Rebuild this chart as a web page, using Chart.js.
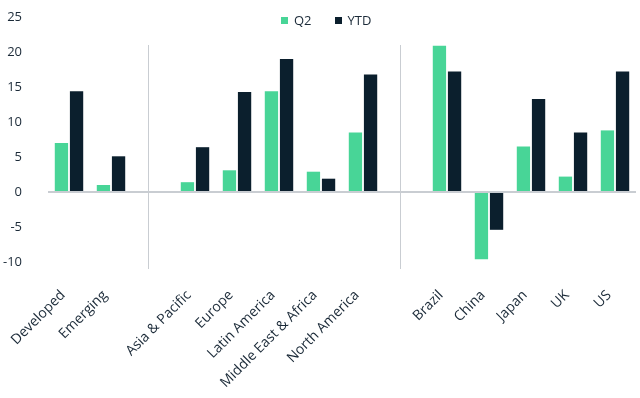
<!DOCTYPE html>
<html lang="en">
<head>
  <meta charset="UTF-8">
  <title>Q2 and YTD returns by region</title>
  <script src="https://cdn.jsdelivr.net/npm/chart.js"></script>
  <style>
      body {
          margin: 0;
          background-color: #ffffff;
          font-family: "Open Sans", sans-serif;
      }
      #chart-container {
          width: 640px;
          height: 398px;
          position: relative;
      }
      /* legend sits inside the plot, next to the top tick */
      #legend {
          position: absolute;
          top: 11px;
          left: 281px;
          display: flex;
          font-size: 13px;
          line-height: 18px;
          color: #1b2a38;
      }
      #legend span.item {
          display: flex;
          align-items: center;
          margin-right: 23px;
      }
      #legend span.box {
          width: 7px;
          height: 7px;
          margin-right: 6px;
      }
  </style>
</head>
<body>

<div id="chart-container">
    <canvas id="barChart" width="640" height="398"></canvas>
    <div id="legend"></div>
</div>

<script>
    // categories ('' = spacer between the groups)
    const labels = ['Developed', 'Emerging', '', 'Asia & Pacific', 'Europe', 'Latin America',
        'Middle East & Africa', 'North America', '', 'Brazil', 'China', 'Japan', 'UK', 'US'];
    const q2 = [7.0, 1.0, null, 1.4, 3.1, 14.4, 2.9, 8.5, null, 20.9, -9.6, 6.5, 2.2, 8.8];
    const ytd = [14.4, 5.1, null, 6.4, 14.3, 19.0, 1.9, 16.8, null, 17.2, -5.4, 13.3, 8.5, 17.2];
    const yTicks = [-10, -5, 0, 5, 10, 15, 20, 25];
    // group dividers, in category units
    const dividers = [1.87, 7.87];
    const dividerRange = [21, -11];

    const textColor = '#1b2a38';
    const green = '#48d597';
    const navy = '#0b1f2d';

    // thin vertical lines between the groups
    const dividerPlugin = {
        id: 'dividers',
        beforeDatasetsDraw(chart) {
            const ctx = chart.ctx;
            const x = chart.scales.x;
            const y = chart.scales.y;
            ctx.save();
            ctx.strokeStyle = '#c9cdd2';
            ctx.lineWidth = 1;
            dividers.forEach(function (d) {
                const px = Math.round(x.getPixelForValue(d)) + 0.5;
                ctx.beginPath();
                ctx.moveTo(px, y.getPixelForValue(dividerRange[0]));
                ctx.lineTo(px, y.getPixelForValue(dividerRange[1]));
                ctx.stroke();
            });
            ctx.restore();
        }
    };

    const ctx = document.getElementById('barChart').getContext('2d');
    const chart = new Chart(ctx, {
        type: 'bar',
        data: {
            labels: labels,
            datasets: [
                {
                    label: 'Q2',
                    data: q2,
                    backgroundColor: green,
                    categoryPercentage: 0.72,
                    barPercentage: 0.88
                },
                {
                    label: 'YTD',
                    data: ytd,
                    backgroundColor: navy,
                    categoryPercentage: 0.72,
                    barPercentage: 0.88
                }
            ]
        },
        options: {
            responsive: false,
            animation: false,
            layout: {
                padding: { top: 17, left: 0, right: 4, bottom: 0 }
            },
            plugins: {
                tooltip: { enabled: false },
                legend: { display: false }
            },
            scales: {
                x: {
                    grid: { display: false },
                    border: { display: false },
                    ticks: {
                        autoSkip: false,
                        minRotation: 45,
                        maxRotation: 45,
                        padding: 17,
                        labelOffset: -6,
                        color: textColor,
                        font: { family: 'Open Sans', size: 14 }
                    },
                    afterFit: function (scale) {
                        scale.height = 136;
                        scale.paddingLeft = 0;
                        scale.paddingRight = 0;
                    }
                },
                y: {
                    min: -10,
                    max: 25,
                    afterBuildTicks: function (scale) {
                        scale.ticks = yTicks.map(function (v) { return { value: v }; });
                    },
                    afterFit: function (scale) {
                        scale.width = 48;
                        scale.paddingTop = 0;
                        scale.paddingBottom = 0;
                    },
                    border: { display: false },
                    grid: {
                        drawTicks: false,
                        color: function (c) {
                            return c.tick && c.tick.value === 0 ? '#c9cdd2' : 'rgba(0,0,0,0)';
                        },
                        lineWidth: function (c) {
                            return c.tick && c.tick.value === 0 ? 2 : 0;
                        }
                    },
                    ticks: {
                        padding: 26,
                        color: textColor,
                        font: { family: 'Open Sans', size: 13 }
                    }
                }
            }
        },
        plugins: [dividerPlugin]
    });

    // html legend built from the datasets
    const legend = document.getElementById('legend');
    chart.data.datasets.forEach(function (ds) {
        const item = document.createElement('span');
        item.className = 'item';
        const box = document.createElement('span');
        box.className = 'box';
        box.style.backgroundColor = ds.backgroundColor;
        item.appendChild(box);
        item.appendChild(document.createTextNode(ds.label));
        legend.appendChild(item);
    });
</script>
</body>
</html>
